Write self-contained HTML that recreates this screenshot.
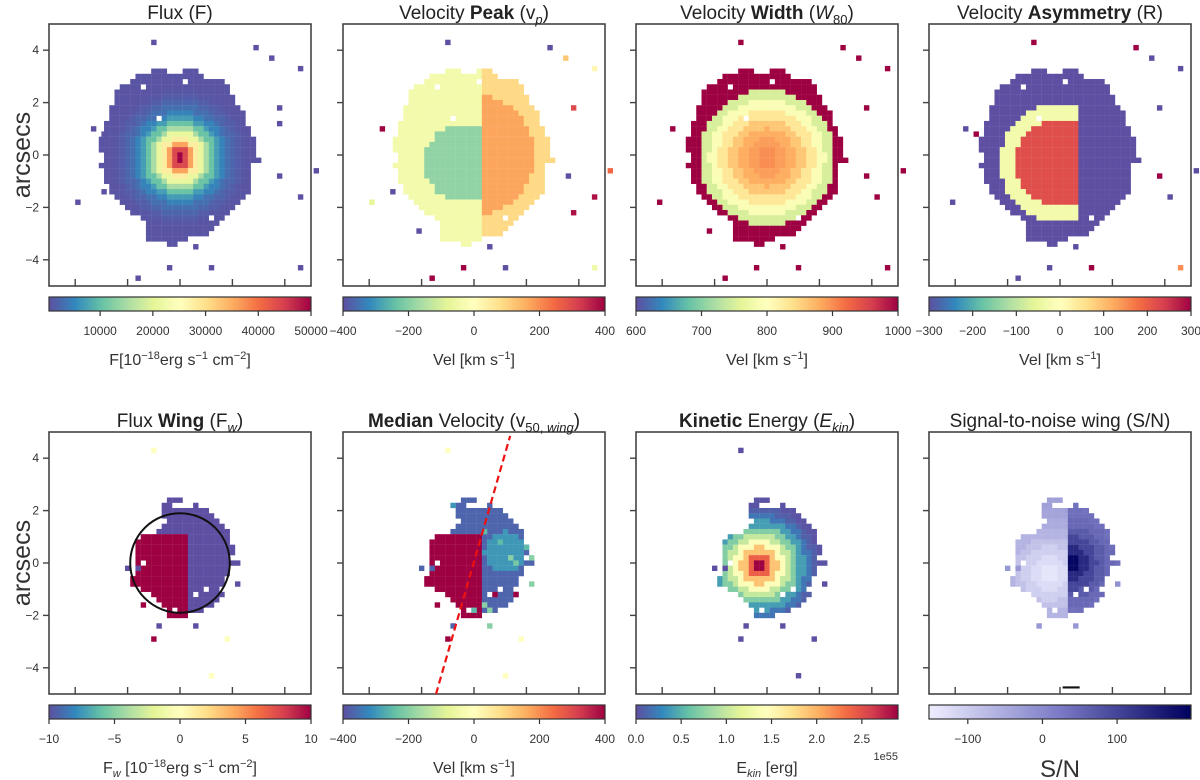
<!DOCTYPE html>
<html><head><meta charset="utf-8"><style>
body{margin:0;background:#fff;}
svg{display:block;font-family:"Liberation Sans",sans-serif;}
</style></head><body>
<svg id="fig" width="1200" height="780" viewBox="0 0 1200 780" xmlns="http://www.w3.org/2000/svg">
<defs>
<linearGradient id="gSpec" x1="0" x2="1" y1="0" y2="0">
<stop offset="0" stop-color="#5e4fa2"/><stop offset="0.1" stop-color="#3288bd"/><stop offset="0.2" stop-color="#66c2a5"/><stop offset="0.3" stop-color="#abdda4"/><stop offset="0.4" stop-color="#e6f598"/><stop offset="0.5" stop-color="#ffffbf"/><stop offset="0.6" stop-color="#fee08b"/><stop offset="0.7" stop-color="#fdae61"/><stop offset="0.8" stop-color="#f46d43"/><stop offset="0.9" stop-color="#d53e4f"/><stop offset="1" stop-color="#9e0142"/>
</linearGradient>
<linearGradient id="gPur" x1="0" x2="1" y1="0" y2="0">
<stop offset="0" stop-color="#eeeeff"/><stop offset="0.5" stop-color="#7a7ac6"/><stop offset="1" stop-color="#00005e"/>
</linearGradient>
</defs>
<g id="layer"></g>
</svg>
<script>
// ---- data ----
const topRows=[[3.2,-1.0,-0.6,0.2,0.6],[3.0,-1.6,0.8],[2.8,-1.8,1.6],[2.6,-2.2,1.8],[2.4,-2.4,1.8],[2.2,-2.4,2.0],[2.0,-2.4,2.0],[1.8,-2.6,2.2],[1.6,-2.6,2.4],[1.4,-2.6,2.4],[1.2,-2.8,2.4],[1.0,-2.8,2.6],[0.8,-2.8,2.6],[0.6,-3.0,2.8],[0.4,-3.0,2.8],[0.2,-3.0,2.8],[0.0,-2.8,2.8],[-0.2,-2.8,3.0],[-0.4,-3.0,2.6],[-0.6,-2.8,2.6],[-0.8,-2.8,2.6],[-1.0,-2.8,2.6],[-1.2,-2.6,2.6],[-1.4,-2.6,2.6],[-1.6,-2.4,2.4],[-1.8,-2.2,2.2],[-2.0,-2.0,2.0],[-2.2,-1.8,1.8],[-2.4,-1.4,1.6],[-2.6,-1.2,1.4],[-2.8,-1.2,1.2],[-3.0,-1.2,1.0],[-3.2,-1.2,0.2],[-3.4,-0.4,-0.2]];
const botRows=[[2.4,-0.4,0.0],[2.2,-0.6,-0.4,0.6,0.6],[2.0,-0.6,1.0],[1.8,-0.6,1.2],[1.6,-0.4,1.4],[1.4,-0.6,1.6],[1.2,-0.8,1.8],[1.0,-1.4,1.8],[0.8,-1.6,1.8],[0.6,-1.6,2.0],[0.4,-1.6,2.0],[0.2,-1.6,1.8],[0.0,-1.6,2.2],[-0.2,-1.6,1.8],[-0.4,-1.6,1.8],[-0.6,-1.8,1.6],[-0.8,-1.8,1.6],[-1.0,-1.4,1.4],[-1.2,-1.0,1.6],[-1.4,-0.8,1.4],[-1.6,-0.6,1.2],[-1.8,-0.4,0.8],[-2.0,-0.4,0.2]];
const fluxProfile=[50000,44000,36000,28000,21000,15000,10500,7000,4800,3200,2200,1500,1000,700];
const vpZones=[-190,-40,170,90];
const w80Profile=[900,890,880,860,830,790,750,1000];
const asymZones=[220,-30,-300];
const fwZones=[10,-10];
const vmedZones=[400,-370,-300];
const ekinProfile=[2.9,2.4,1.9,1.4,1.0,0.7,0.4,0.2,0.08,0.02];
const snLeft=[-140,-125,-105,-85,-65,-50,-40,-35];
const snRight=[190,140,100,70,50,40,35,30];
const strayFlux=[[-1.0,4.3,500],[2.9,4.1,500],[3.5,3.7,500],[4.6,3.3,500],[-3.3,1.0,500],[-2.9,0.8,500],[3.8,1.8,500],[3.8,1.2,500],[5.2,-0.6,500],[4.6,-1.6,500],[-3.9,-1.8,500],[-2.9,-1.4,500],[0.6,-3.5,500],[1.2,-4.3,500],[-1.6,-4.7,500],[-0.4,-4.3,500],[4.6,-4.3,500],[3.8,-0.8,500]];
const strayVp=[[-1.0,4.3,-400],[2.9,4.1,-400],[3.5,3.7,120],[4.6,3.3,20],[-3.5,1.0,400],[3.8,1.8,300],[5.2,-0.6,250],[4.6,-1.6,380],[3.8,-2.2,380],[-3.1,-1.4,-400],[-3.9,-1.8,-80],[-2.1,-2.9,-400],[0.6,-3.5,-400],[1.2,-4.3,-400],[-1.6,-4.7,400],[-0.4,-4.3,400],[4.6,-4.3,-50],[3.6,-0.8,-400]];
const strayW80=[[-1.0,4.3,1000],[2.9,4.1,1000],[3.5,3.7,1000],[4.6,3.3,1000],[-3.6,1.0,1000],[3.8,1.8,1000],[5.2,-0.6,1000],[4.2,-1.6,1000],[-4.1,-1.8,1000],[0.6,-3.5,1000],[1.2,-4.3,1000],[-1.6,-4.7,1000],[-0.4,-4.3,1000],[4.6,-4.3,1000],[3.8,-0.8,1000],[-2.2,-2.9,1000]];
const strayAsym=[[-1.0,4.3,300],[2.9,4.1,300],[3.5,3.7,-300],[4.6,3.3,-300],[-3.6,1.0,-300],[-3.2,0.8,300],[3.8,1.8,-300],[5.2,-0.6,-300],[4.2,-1.6,-300],[-4.1,-1.8,-300],[0.6,-3.5,-300],[-0.4,-4.3,-300],[1.2,-4.3,300],[-1.6,-4.7,-300],[4.6,-4.3,150],[3.8,-0.8,300]];
const strayFw=[[-1.0,4.3,0],[1.8,-2.9,0],[1.2,-4.3,0],[-1.0,-2.9,10],[-2.0,-0.2,-10],[-1.6,-0.2,-10],[-1.4,-1.6,10],[-0.8,-2.4,-10],[0.6,-2.4,-10],[2.2,-0.8,-10]];
const strayVmed=[[-1.0,4.3,0],[1.8,-2.9,0],[1.2,-4.3,0],[-1.0,-2.9,400],[-2.0,-0.2,-370],[-1.6,-0.2,-370],[-1.4,-1.6,400],[-0.8,-2.4,-370],[0.6,-2.4,-200],[2.2,-0.8,-200],[2.2,0.2,-200],[2.0,0.6,-250],[1.4,0.2,-200],[1.6,0.0,-220],[1.0,0.8,-250],[0.6,-1.8,-200],[0.0,-1.8,-250],[1.6,-1.2,400],[0.4,-1.6,-200],[0.8,-1.2,400],[0.4,1.2,-250],[-0.8,2.2,-300]];
const strayEkin=[[-1.0,4.3,0],[-1.0,-2.9,0],[1.8,-2.9,0],[1.2,-4.3,0],[-2.0,-0.2,0],[-1.6,-0.2,0],[-0.8,-2.4,0],[0.6,-2.4,0],[2.2,-0.8,0]];
const straySn=[[-2.0,-0.2,-20],[-1.6,-0.2,-20],[-0.8,-2.4,-20],[0.6,-2.4,-20],[2.2,-0.8,-10]];
const holesTop=[[-1.4,2.6],[0.2,2.8],[-0.8,1.4],[1.2,-2.4]];
const holesBot=[[-1.4,-0.0],[0.6,-1.2],[1.0,-1.0],[-0.2,-1.8],[-1.2,-1.2]];

const spectral=['#5e4fa2','#3288bd','#66c2a5','#abdda4','#e6f598','#ffffbf','#fee08b','#fdae61','#f46d43','#d53e4f','#9e0142'];
const purples=['#eeeeff','#7a7ac6','#00005e'];
function hex(c){return [parseInt(c.slice(1,3),16),parseInt(c.slice(3,5),16),parseInt(c.slice(5,7),16)];}
function cmap(stops,t){t=Math.max(0,Math.min(1,t));const n=stops.length-1;const i=Math.min(n-1,Math.floor(t*n));const f=t*n-i;const a=hex(stops[i]),b=hex(stops[i+1]);return 'rgb('+a.map((v,k)=>Math.round(v+(b[k]-v)*f)).join(',')+')';}
function prof(arr,r,step){const i=Math.floor(r/step);return arr[Math.min(arr.length-1,i)];}

const NS='http://www.w3.org/2000/svg';
const layer=document.getElementById('layer');
function el(tag,attrs,parent){const e=document.createElementNS(NS,tag);for(const k in attrs)e.setAttribute(k,attrs[k]);(parent||layer).appendChild(e);return e;}
const S=262,U=26.2;
const panels=[
 {left:49,top:24,rows:topRows,holes:holesTop,stray:strayFlux,vmin:300,vmax:50000,cm:spectral,name:'flux',
  val:(x,y)=>prof(fluxProfile,Math.hypot(x,y+0.1),0.2),ticks:[10000,20000,30000,40000,50000],tl:['10000','20000','30000','40000','50000']},
 {left:343,top:24,rows:topRows,holes:holesTop,stray:strayVp,vmin:-400,vmax:400,cm:spectral,name:'velocity-peak',
  val:(x,y)=>{const r=Math.hypot(x+0.4,y+0.3);if(x<0.3)return r<1.5?vpZones[0]:vpZones[1];return Math.hypot(x,y)>2.3?vpZones[3]:vpZones[2];},ticks:[-400,-200,0,200,400],tl:['−400','−200','0','200','400']},
 {left:636,top:24,rows:topRows,holes:holesTop,stray:strayW80,vmin:600,vmax:1000,cm:spectral,name:'velocity-width',
  val:(x,y)=>prof(w80Profile,Math.hypot(x,y+0.1),0.37),ticks:[600,700,800,900,1000],tl:['600','700','800','900','1000']},
 {left:929,top:24,rows:topRows,holes:holesTop,stray:strayAsym,vmin:-300,vmax:300,cm:spectral,name:'velocity-asymmetry',
  val:(x,y)=>{const r=Math.hypot(x,y+0.3);if(x<0.8&&r<1.7)return asymZones[0];if(x<0.8&&r<2.3)return asymZones[1];return asymZones[2];},ticks:[-300,-200,-100,0,100,200,300],tl:['−300','−200','−100','0','100','200','300']},
 {left:49,top:432,rows:botRows,holes:holesBot,stray:strayFw,vmin:-10,vmax:10,cm:spectral,name:'flux-wing',
  val:(x,y)=>(x<0.3&&y<1.1)?fwZones[0]:fwZones[1],ticks:[-10,-5,0,5,10],tl:['−10','−5','0','5','10']},
 {left:343,top:432,rows:botRows,holes:holesBot,stray:strayVmed,vmin:-400,vmax:400,cm:spectral,name:'median-velocity',
  val:(x,y)=>(x<0.3&&y<1.1)?vmedZones[0]:(Math.hypot(x-1.2,y-0.4)<0.8?vmedZones[2]:vmedZones[1]),ticks:[-400,-200,0,200,400],tl:['−400','−200','0','200','400']},
 {left:636,top:432,rows:botRows,holes:holesBot,stray:strayEkin,vmin:0,vmax:2.9,cm:spectral,name:'kinetic-energy',
  val:(x,y)=>prof(ekinProfile,Math.hypot(x+0.3,y+0.1),0.25),ticks:[0,0.5,1,1.5,2,2.5],tl:['0.0','0.5','1.0','1.5','2.0','2.5']},
 {left:929,top:432,rows:botRows,holes:holesBot,stray:straySn,vmin:-152,vmax:199,cm:purples,name:'signal-to-noise',
  val:(x,y)=>x<0.35?prof(snLeft,Math.hypot(x+0.4,y+0.4),0.35):prof(snRight,Math.hypot(x-0.35,y),0.35),ticks:[-100,0,100],tl:['−100','0','100']}
];
const sub=(s,it)=>'<tspan dy="5" font-size="13"'+(it?' font-style="italic"':'')+'>'+s+'</tspan><tspan dy="-5">';
const titles=['Flux (F)',
'Velocity <tspan font-weight="bold">Peak</tspan> (v'+sub('p',1)+')</tspan>',
'Velocity <tspan font-weight="bold">Width</tspan> (<tspan font-style="italic">W</tspan>'+sub('80',0)+')</tspan>',
'Velocity <tspan font-weight="bold">Asymmetry</tspan> (R)',
'Flux <tspan font-weight="bold">Wing</tspan> (F'+sub('w',1)+')</tspan>',
'<tspan font-weight="bold">Median</tspan> Velocity (v<tspan dy="5" font-size="13">50, </tspan><tspan font-size="13" font-style="italic">wing</tspan><tspan dy="-5">)</tspan>',
'<tspan font-weight="bold">Kinetic</tspan> Energy (<tspan font-style="italic">E</tspan>'+sub('kin',1)+')</tspan>',
'Signal-to-noise wing (S/N)'];
const sup=s=>'<tspan dy="-6" font-size="11">'+s+'</tspan><tspan dy="6">';
const cbLabels=['F[10'+sup('−18')+'erg s</tspan>'+sup('−1')+' cm</tspan>'+sup('−2')+']</tspan>',
'Vel [km s'+sup('−1')+']</tspan>','Vel [km s'+sup('−1')+']</tspan>','Vel [km s'+sup('−1')+']</tspan>',
'F<tspan dy="4" font-size="11" font-style="italic">w</tspan><tspan dy="-4"> [10</tspan>'+sup('−18')+'erg s</tspan>'+sup('−1')+' cm</tspan>'+sup('−2')+']</tspan>',
'Vel [km s'+sup('−1')+']</tspan>',
'E<tspan dy="4" font-size="11" font-style="italic">kin</tspan><tspan dy="-4"> [erg]</tspan>','S/N'];

panels.forEach((p,pi)=>{
  const g=el('g',{});
  
  
  const cx=p.left+S/2, cy=p.top+S/2;
  const X=x=>cx+x*U, Y=y=>cy-y*U;
  const cell=(x,y,v)=>{const r=el('rect',{x:(X(x-0.1)).toFixed(2),y:(Y(y+0.1)).toFixed(2),width:5.4,height:5.4,fill:cmap(p.cm,(v-p.vmin)/(p.vmax-p.vmin))},g);
    
    };
  const isHole=(x,y)=>p.holes.some(h=>Math.abs(h[0]-x)<0.05&&Math.abs(h[1]-y)<0.05);
  p.rows.forEach(row=>{const y=row[0];for(let s=1;s<row.length;s+=2){for(let k=Math.round(row[s]*5);k<=Math.round(row[s+1]*5);k++){const x=k/5;if(!isHole(x,y))cell(x,y,p.val(x,y));}}});
  p.stray.forEach(s=>cell(s[0],s[1],s[2]));
  const b=el('rect',{x:p.left,y:p.top,width:S,height:S,fill:'none',stroke:'#444','stroke-width':1.6},g);
  
  
  [-4,-2,0,2,4].forEach(v=>{
    el('line',{x1:X(v),x2:X(v),y1:p.top+S,y2:p.top+S-7,stroke:'#444','stroke-width':1.4},g);
    el('line',{x1:p.left,x2:p.left-6,y1:Y(v),y2:Y(v),stroke:'#444','stroke-width':1.4},g);
    if(pi===0||pi===4){const t=el('text',{x:p.left-10,y:Y(v)+4,'text-anchor':'end','font-size':12,fill:'#333'},g);t.textContent=v<0?'−'+(-v):String(v);
      
      }
  });
  const t=el('text',{x:cx,y:p.top-5,'text-anchor':'middle','font-size':19,fill:'#222'},g);t.innerHTML=titles[pi];
  
  
  const cbY=p.top+S+11;
  const cb=el('rect',{x:p.left,y:cbY,width:S,height:14,fill:p.cm===purples?'url(#gPur)':'url(#gSpec)',stroke:'#333','stroke-width':1.2},g);
  
  
  p.ticks.forEach((v,i)=>{const x=p.left+(v-p.vmin)/(p.vmax-p.vmin)*S;
    el('line',{x1:x,x2:x,y1:cbY+14,y2:cbY+19,stroke:'#333','stroke-width':1.2},g);
    const tt=el('text',{x:x,y:cbY+38,'text-anchor':'middle','font-size':12,fill:'#333'},g);tt.textContent=p.tl[i];
    
    });
  const lab=el('text',{x:cx,y:cbY+(pi===7?72:68),'text-anchor':'middle','font-size':pi===7?24:16,fill:'#333'},g);lab.innerHTML=cbLabels[pi];
  
  
  if(pi===6){const e=el('text',{x:p.left+S,y:cbY+55,'text-anchor':'end','font-size':11,fill:'#333'},g);e.textContent='1e55';
    
    }
  if(pi===4){const c=el('circle',{cx:X(0),cy:Y(0),r:1.9*U,fill:'none',stroke:'#111','stroke-width':2},g);
    
    }
  if(pi===5){const l=el('line',{x1:X(-1.45),y1:Y(-5),x2:X(1.38),y2:Y(4.85),stroke:'#ee1111','stroke-width':2.2,'stroke-dasharray':'7,4'},g);
    
    }
  if(pi===7){const l=el('line',{x1:X(0.1),y1:Y(-4.75),x2:X(0.75),y2:Y(-4.75),stroke:'#111','stroke-width':2.2},g);
    
    }
});
[155,563].forEach(y=>{const t=el('text',{x:0,y:0,transform:'translate(30,'+y+') rotate(-90)','text-anchor':'middle','font-size':25,fill:'#333'});t.textContent='arcsecs';
  
  });
</script>
</body></html>
